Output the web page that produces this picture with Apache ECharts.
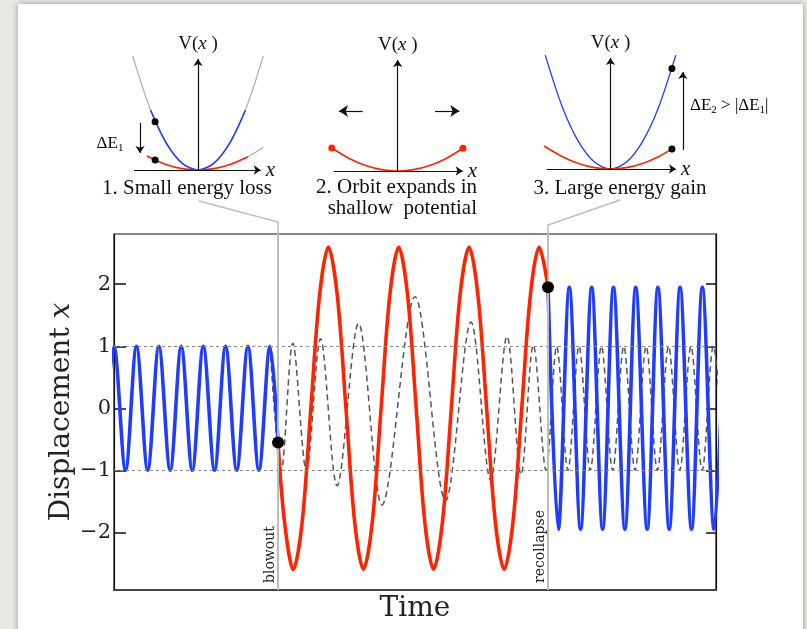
<!DOCTYPE html>
<html lang="en">
<head>
<meta charset="UTF-8">
<title>Blowout and recollapse</title>
<script src="https://cdn.jsdelivr.net/npm/echarts@6.0.0/dist/echarts.min.js"></script>
<style>
    html, body { margin: 0; padding: 0; overflow: hidden; background: #e8e8e5; }
    #card { position: absolute; left: 18px; top: 4px; width: 785px; height: 640px; background: #fff;
            box-shadow: 0 0 6px rgba(0, 0, 0, 0.35); }
    #main { position: absolute; left: 0; top: 0; width: 807px; height: 629px; }
</style>
</head>
<body>
<div id="card"></div>
<div id="main"></div>
<script type="text/javascript">
    // main panel: displacement against time
    var blowoutT = 16.35, recollapseT = 43.26;
    var yTicks = [-2, -1, 0, 1, 2];

    var blueBeforeT = [-1.11, 0, 1.15, 2.24, 3.36, 4.47, 5.6, 6.7, 7.8, 8.9, 10.02, 11.12, 12.23, 13.35, 14.44, 15.55, 16.35];
    var blueBeforeX = [-1, 1, -1, 1, -1, 1, -1, 1, -1, 1, -1, 1, -1, 1, -1, 1, -0.55];

    var redT = [16.35, 17.0, 17.87, 18.75, 19.62, 20.5, 21.37, 22.24, 23.12, 23.99, 24.86, 25.74, 26.62, 27.5, 28.38,
        29.25, 30.12, 30.98, 31.85, 32.73, 33.62, 34.5, 35.39, 36.26, 37.14, 38.01, 38.89, 39.76, 40.64, 41.51, 42.38, 43.26];
    var redX = [-0.55, -1.84, -2.6, -1.84, 0, 1.84, 2.6, 1.84, 0, -1.84, -2.6, -1.84, 0, 1.84, 2.6,
        1.84, 0, -1.84, -2.6, -1.84, 0, 1.84, 2.6, 1.84, 0, -1.84, -2.6, -1.84, 0, 1.84, 2.6, 1.95];

    var blueAfterT = [43.26, 44.28, 45.38, 46.5, 47.61, 48.7, 49.78, 50.92, 52.0, 53.14, 54.21, 55.34, 56.42, 57.56, 58.64, 59.81, 60.93];
    var blueAfterX = [1.95, -1.95, 1.95, -1.95, 1.95, -1.95, 1.95, -1.95, 1.95, -1.95, 1.95, -1.95, 1.95, -1.95, 1.95, -1.95, 1.95];

    var dashedT = [15.55, 16.67, 17.82, 19.17, 20.58, 22.23, 24.37, 26.71, 30.0, 33.04, 35.58, 37.53, 39.17, 40.57, 41.79,
        43.06, 44.12, 45.24, 46.35, 47.47, 48.58, 49.7, 50.81, 51.93, 53.04, 54.16, 55.27, 56.39, 57.5, 58.62, 59.73, 60.85];
    var dashedX = [1, -1.0, 1.05, -1.0, 1.12, -1.25, 1.37, -1.56, 1.8, -1.49, 1.39, -1.16, 1.16, -1.07, 1.02,
        -1.0, 1.0, -1, 1, -1, 1, -1, 1, -1, 1, -1, 1, -1, 1, -1, 1, -1];

    var eventDots = [[16.35, -0.55], [43.26, 1.95]];

    // insets: potential wells V(x)
    var wellX = [-1.02, -0.75, -0.5, -0.25, 0, 0.25, 0.5, 0.75, 1.02];
    var deepWellV = [0.99, 0.535, 0.238, 0.06, 0, 0.06, 0.238, 0.535, 0.99];

    var loss_blueX = [-0.74, -0.5, -0.25, 0, 0.25, 0.5, 0.74];
    var loss_blueV = [0.52, 0.238, 0.06, 0, 0.06, 0.238, 0.52];
    var loss_redX = [-0.8, -0.5, -0.25, 0, 0.25, 0.5, 0.78];
    var loss_redV = [0.122, 0.048, 0.012, 0, 0.012, 0.048, 0.116];
    var loss_tailX = [0.78, 0.9, 1.02];
    var loss_tailV = [0.116, 0.154, 0.198];
    var loss_dots = [[-0.67, 0.42], [-0.67, 0.087]];

    var expand_redX = [-1.03, -0.75, -0.5, -0.25, 0, 0.25, 0.5, 0.75, 1.02];
    var expand_redV = [0.2, 0.107, 0.048, 0.012, 0, 0.012, 0.048, 0.107, 0.198];
    var expand_dots = [[-1.03, 0.2], [1.02, 0.198]];

    var gain_redX = [-1.04, -0.75, -0.5, -0.25, 0, 0.25, 0.5, 0.75, 0.96];
    var gain_redV = [0.2, 0.107, 0.048, 0.012, 0, 0.012, 0.048, 0.107, 0.175];
    var gain_dots = [[0.96, 0.875], [0.96, 0.175]];

    var BLUE = '#1f3cff', RED = '#ff2400';
    var SERIF = 'DejaVu Serif', TIMES = 'Liberation Serif';

    function zip(a, b) {
        return a.map(function (v, i) { return [v, b[i]]; });
    }

    function minus(v) {
        return v < 0 ? '\u2212' + Math.abs(v) : String(v);
    }

    function arrow(p0, p1, size, label) {
        var end = {coord: p1, symbol: 'arrow', symbolSize: size || 8};
        if (label) end.label = label;
        return [{coord: p0, symbol: 'none'}, end];
    }

    var axisLabelX = {show: true, formatter: 'x', position: 'end', distance: 5,
        fontFamily: TIMES, fontStyle: 'italic', fontSize: 21, color: '#111'};
    var axisLabelV = {show: true, formatter: 'V({i|x} )', position: 'end', distance: 6,
        fontFamily: TIMES, fontSize: 19, color: '#111', rich: {i: {fontStyle: 'italic', fontFamily: TIMES, fontSize: 19}}};

    function insetMarks(xEnd, extra) {
        return {
            silent: true, animation: false,
            label: {show: false},
            lineStyle: {color: '#111', width: 1.2, type: 'solid'},
            data: [arrow([-1.0, 0], [xEnd, 0], 7, axisLabelX), arrow([0, 0], [0, 0.965], 7, axisLabelV)].concat(extra)
        };
    }

    function thinLine(grid, data, color, width, z) {
        return {type: 'line', xAxisIndex: grid, yAxisIndex: grid + 1, data: data, smooth: 0.3, symbol: 'none',
            clip: false, silent: true, z: z || 2, lineStyle: {color: color, width: width}};
    }

    function dots(grid, data, color, size) {
        return {type: 'scatter', xAxisIndex: grid, yAxisIndex: grid + 1, data: data, clip: false, silent: true,
            symbolSize: size, itemStyle: {color: color, opacity: 1}, z: 5};
    }

    var dom = document.getElementById('main');
    var myChart = echarts.init(dom);

    var hiddenX = function (g) { return {gridIndex: g, type: 'value', min: -1.5, max: 1.5, show: false}; };
    var hiddenY = function (g) { return {gridIndex: g, type: 'value', min: -0.1, max: 1, show: false}; };

    var option = {
        animation: false,
        textStyle: {fontFamily: SERIF},
        grid: [
            {left: 114, top: 234, width: 602, height: 356, show: true, borderColor: '#111', borderWidth: 1.2},
            {left: 102, top: 55, width: 192, height: 126.5},
            {left: 301.7, top: 56, width: 192, height: 126.5},
            {left: 514.5, top: 54, width: 192, height: 126.5}
        ],
        xAxis: [
            {
                gridIndex: 0, type: 'value', min: 0, max: 60,
                name: 'Time', nameLocation: 'middle', nameGap: 5, nameMoveOverlap: false,
                nameTextStyle: {fontFamily: SERIF, fontSize: 28, color: '#222'},
                axisLine: {show: true, onZero: false, lineStyle: {color: '#444', width: 2.2}},
                axisTick: {show: false}, axisLabel: {show: false}, splitLine: {show: false}
            },
            hiddenX(1), hiddenX(2), hiddenX(3)
        ],
        yAxis: [
            {
                gridIndex: 0, type: 'value', min: -2.93, max: 2.81,
                name: 'Displacement {i|x}', nameLocation: 'middle', nameGap: 38, nameMoveOverlap: false,
                nameTextStyle: {fontFamily: SERIF, fontSize: 28, color: '#222',
                    rich: {i: {fontFamily: SERIF, fontSize: 28, fontStyle: 'italic', color: '#222'}}},
                axisLine: {show: true, onZero: false, lineStyle: {color: '#111', width: 1.2}},
                axisTick: {show: true, inside: true, length: 12, customValues: yTicks, lineStyle: {color: '#111', width: 1.5}},
                axisLabel: {customValues: yTicks, margin: 3, fontSize: 21, color: '#222', fontFamily: SERIF, formatter: minus},
                splitLine: {show: false}
            },
            {
                gridIndex: 0, type: 'value', position: 'right', min: -2.93, max: 2.81,
                axisLine: {show: true, onZero: false, lineStyle: {color: '#111', width: 1.2}},
                axisTick: {show: true, inside: true, length: 10, customValues: yTicks, lineStyle: {color: '#111', width: 1.5}},
                axisLabel: {show: false}, splitLine: {show: false}
            },
            hiddenY(1), hiddenY(2), hiddenY(3)
        ],
        series: [
            {
                type: 'line', xAxisIndex: 0, yAxisIndex: 0, data: zip(dashedT, dashedX), smooth: 0.33, symbol: 'none',
                silent: true, z: 2, lineStyle: {color: '#555', width: 1.5, type: [6, 4]},
                markLine: {
                    silent: true, animation: false, symbol: 'none',
                    data: [
                        {yAxis: 1, lineStyle: {color: '#8a8a8a', width: 1, type: [3, 3]}, label: {show: false}},
                        {yAxis: -1, lineStyle: {color: '#8a8a8a', width: 1, type: [3, 3]}, label: {show: false}},
                        {xAxis: blowoutT, lineStyle: {color: '#bdbdbd', width: 2, type: 'solid'},
                            label: {show: true, formatter: 'blowout', position: 'insideStartTop', distance: [7, 1],
                                fontFamily: SERIF, fontSize: 14, color: '#222'}},
                        {xAxis: recollapseT, lineStyle: {color: '#bdbdbd', width: 2, type: 'solid'},
                            label: {show: true, formatter: 'recollapse', position: 'insideStartTop', distance: [7, 1],
                                fontFamily: SERIF, fontSize: 14, color: '#222'}}
                    ]
                }
            },
            {type: 'line', xAxisIndex: 0, yAxisIndex: 0, data: zip(blueBeforeT, blueBeforeX), smooth: 0.33, symbol: 'none',
                silent: true, z: 3, lineStyle: {color: BLUE, width: 3.6}},
            {type: 'line', xAxisIndex: 0, yAxisIndex: 0, data: zip(redT, redX), smooth: 0.33, symbol: 'none',
                silent: true, z: 3, lineStyle: {color: RED, width: 3.6}},
            {type: 'line', xAxisIndex: 0, yAxisIndex: 0, data: zip(blueAfterT, blueAfterX), smooth: 0.33, symbol: 'none',
                silent: true, z: 3, lineStyle: {color: BLUE, width: 3.6}},
            {type: 'scatter', xAxisIndex: 0, yAxisIndex: 0, data: eventDots, symbolSize: 12, silent: true, z: 6,
                itemStyle: {color: '#000', opacity: 1}},

            // inset 1: small energy loss
            Object.assign(thinLine(1, zip(wellX, deepWellV), '#aaaaaa', 1.2, 1), {
                markLine: insetMarks(0.98, [arrow([-0.906, 0.41], [-0.906, 0.148], 7)])
            }),
            thinLine(1, zip(loss_blueX, loss_blueV), BLUE, 1.6, 3),
            thinLine(1, zip(loss_tailX, loss_tailV), '#aaaaaa', 1.2, 2),
            thinLine(1, zip(loss_redX, loss_redV), RED, 1.6, 3),
            dots(1, loss_dots, '#000', 7),

            // inset 2: orbit expands
            Object.assign(thinLine(2, zip(expand_redX, expand_redV), RED, 1.6, 3), {
                markLine: insetMarks(1.016, [
                    arrow([-0.547, 0.522], [-0.917, 0.522], 9),
                    arrow([0.583, 0.522], [0.9625, 0.522], 9)
                ])
            }),
            dots(2, expand_dots, RED, 7),

            // inset 3: large energy gain
            Object.assign(thinLine(3, zip(wellX, deepWellV), BLUE, 1.3, 2), {
                markLine: insetMarks(1.023, [arrow([1.13, 0.165], [1.13, 0.843], 7)])
            }),
            thinLine(3, zip(gain_redX, gain_redV), RED, 1.6, 3),
            dots(3, gain_dots, '#000', 7)
        ]
    };

    myChart.setOption(option);

    // gray connectors from the event lines up to the inset captions
    var bx = myChart.convertToPixel({gridIndex: 0}, [blowoutT, 0])[0];
    var rx = myChart.convertToPixel({gridIndex: 0}, [recollapseT, 0])[0];
    var topY = myChart.convertToPixel({gridIndex: 0}, [0, 2.81])[1];

    var capFont = '21px "' + TIMES + '"';
    var sub = {
        a: {fontFamily: TIMES, fontSize: 17, color: '#111'},
        s: {fontFamily: TIMES, fontSize: 11, color: '#111', padding: [8, 0, 0, 0]}
    };

    myChart.setOption({
        graphic: [
            {type: 'polyline', silent: true, z: 1, shape: {points: [[bx, topY], [bx, 222], [199, 201]]},
                style: {stroke: '#bdbdbd', lineWidth: 1.5, fill: null}},
            {type: 'polyline', silent: true, z: 1, shape: {points: [[rx, topY], [rx, 225], [620, 200]]},
                style: {stroke: '#bdbdbd', lineWidth: 1.5, fill: null}},
            {type: 'text', x: 187, y: 188, silent: true,
                style: {text: '1. Small energy loss', font: capFont, fill: '#111', align: 'center', verticalAlign: 'middle'}},
            {type: 'text', x: 477, y: 198, silent: true,
                style: {text: '2. Orbit expands in\nshallow  potential', font: capFont, fill: '#111', lineHeight: 21,
                    align: 'right', verticalAlign: 'middle'}},
            {type: 'text', x: 620, y: 188, silent: true,
                style: {text: '3. Large energy gain', font: capFont, fill: '#111', align: 'center', verticalAlign: 'middle'}},
            {type: 'text', x: 110, y: 144, silent: true,
                style: {text: '{a|\u0394E}{s|1}', rich: sub, align: 'center', verticalAlign: 'middle'}},
            {type: 'text', x: 690, y: 106, silent: true,
                style: {text: '{a|\u0394E}{s|2}{a| > |\u0394E}{s|1}{a||}', rich: sub, align: 'left', verticalAlign: 'middle'}}
        ]
    });
</script>
</body>
</html>
